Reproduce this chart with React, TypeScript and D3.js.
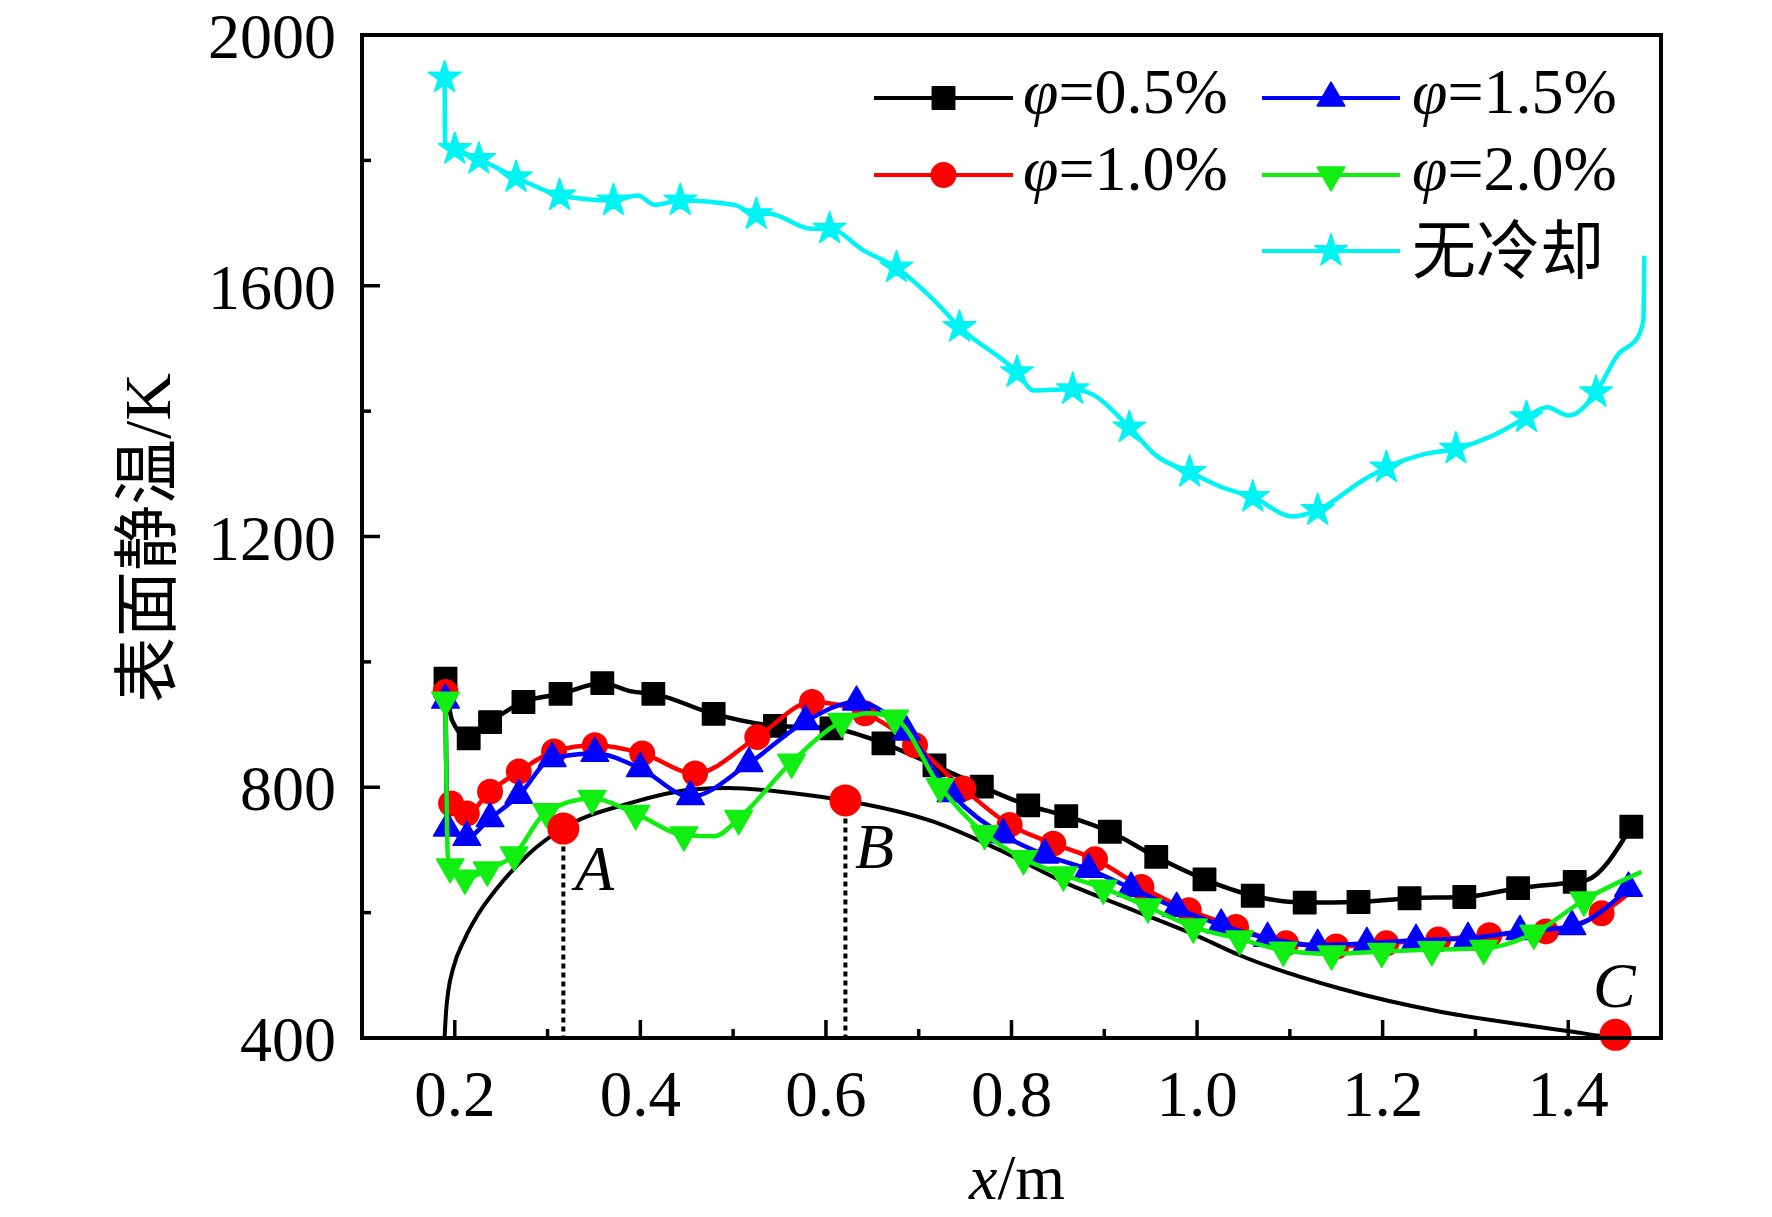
import * as d3 from 'd3';

const W = 1772;
const H = 1217;
const M = { top: 35, right: 111, bottom: 179, left: 362 };

// [x (m), T (K), marker flag] — flag 0 means a plain line vertex without a marker
type Pt = [number, number, number?];

const phi05: Pt[] = [
  [0.190, 973], [0.197, 907, 0], [0.215, 878], [0.238, 904], [0.274, 936], [0.314, 949],
  [0.359, 966], [0.39, 953, 0], [0.414, 949], [0.479, 917], [0.545, 898], [0.606, 894],
  [0.662, 870], [0.717, 835], [0.768, 801], [0.818, 771], [0.859, 754], [0.906, 729],
  [0.956, 689], [1.008, 653], [1.060, 627], [1.116, 616], [1.174, 617], [1.229, 623],
  [1.288, 625], [1.346, 639], [1.407, 649], [1.42, 652, 0], [1.468, 737],
];

const phi10: Pt[] = [
  [0.190, 952], [0.1915, 790, 0], [0.196, 774], [0.213, 758], [0.238, 793], [0.269, 825],
  [0.307, 857], [0.351, 867], [0.402, 854], [0.459, 822], [0.526, 880], [0.585, 936],
  [0.642, 918], [0.696, 867], [0.748, 798], [0.798, 740], [0.845, 710], [0.890, 685],
  [0.940, 641], [0.991, 604], [1.042, 577], [1.096, 551], [1.150, 546], [1.204, 551],
  [1.260, 557], [1.315, 564], [1.376, 570], [1.436, 599], [1.470, 636, 0],
];

const phi15: Pt[] = [
  [0.190, 939], [0.1912, 760, 0], [0.192, 735], [0.213, 720], [0.238, 750], [0.269, 787],
  [0.305, 846], [0.351, 854], [0.400, 830], [0.454, 785], [0.517, 838], [0.578, 905],
  [0.633, 936], [0.687, 888], [0.735, 790], [0.791, 724], [0.836, 692], [0.883, 669],
  [0.929, 639], [0.978, 607], [1.026, 580], [1.076, 559], [1.130, 548], [1.183, 551],
  [1.236, 556], [1.292, 559], [1.348, 570], [1.404, 578], [1.465, 639],
];

const phi20: Pt[] = [
  [0.190, 939], [0.1925, 690, 0], [0.195, 673], [0.211, 655], [0.235, 668], [0.264, 692],
  [0.299, 761], [0.348, 782], [0.395, 758], [0.447, 724], [0.48, 722, 0], [0.506, 750],
  [0.563, 840], [0.617, 905], [0.644, 918, 0], [0.674, 910], [0.723, 801], [0.771, 726],
  [0.813, 686], [0.856, 660], [0.899, 639], [0.947, 609], [0.996, 577], [1.046, 558],
  [1.093, 540], [1.145, 534], [1.199, 538], [1.253, 541], [1.309, 543], [1.363, 567],
  [1.417, 620], [1.479, 665, 0],
];

const noCool: Pt[] = [
  [0.189, 1932], [0.1895, 1825, 0], [0.200, 1818], [0.226, 1802], [0.266, 1773],
  [0.282, 1762, 0], [0.313, 1744], [0.371, 1736], [0.397, 1744, 0], [0.416, 1729, 0],
  [0.443, 1736], [0.501, 1729, 0], [0.525, 1714], [0.539, 1715, 0], [0.584, 1691, 0],
  [0.604, 1691], [0.641, 1656, 0], [0.676, 1629], [0.715, 1579, 0], [0.744, 1534],
  [0.806, 1462], [0.824, 1433, 0], [0.866, 1435], [0.887, 1427, 0], [0.927, 1374],
  [0.956, 1329, 0], [0.992, 1303], [1.026, 1279, 0], [1.060, 1263], [1.103, 1232, 0],
  [1.130, 1242], [1.178, 1289, 0], [1.204, 1310], [1.244, 1331, 0], [1.279, 1340],
  [1.319, 1361, 0], [1.355, 1390], [1.377, 1406, 0], [1.401, 1393, 0], [1.430, 1430],
  [1.454, 1491, 0], [1.475, 1518, 0], [1.481, 1545, 0], [1.482, 1648, 0],
];

// wall profile curve through A, B, C
const profile: [number, number][] = [
  [0.189, 400], [0.1905, 440], [0.193, 475], [0.198, 510], [0.211, 559], [0.225, 597],
  [0.244, 636], [0.280, 694], [0.316, 734], [0.387, 774], [0.459, 797], [0.495, 799],
  [0.567, 790], [0.620, 779], [0.716, 745], [0.787, 700], [0.859, 647], [0.931, 604],
  [1.003, 561], [1.046, 532], [1.154, 479], [1.262, 442], [1.352, 421], [1.405, 410],
  [1.437, 403], [1.451, 401],
];

const keyPoints = [
  { name: 'A', x: 0.317, t: 734, drop: true, lx: 575, ly: 890 },
  { name: 'B', x: 0.621, t: 779, drop: true, lx: 855, ly: 868 },
  { name: 'C', x: 1.451, t: 405, drop: false, lx: 1593, ly: 1007 },
];

const xTicks = [0.2, 0.4, 0.6, 0.8, 1.0, 1.2, 1.4];
const xMinor = [0.1, 0.3, 0.5, 0.7, 0.9, 1.1, 1.3, 1.5];
const yTicks = [400, 800, 1200, 1600, 2000];
const yMinor = [600, 1000, 1400, 1800];

const series = [
  { label: '0.5%', data: phi05, color: '#000000', shape: 'square', col: 0, row: 0 },
  { label: '1.0%', data: phi10, color: '#ff0000', shape: 'circle', col: 0, row: 1 },
  { label: '1.5%', data: phi15, color: '#0000ff', shape: 'up', col: 1, row: 0 },
  { label: '2.0%', data: phi20, color: '#11ee11', shape: 'down', col: 1, row: 1 },
  { label: '无冷却', data: noCool, color: '#00f4f4', shape: 'star', col: 1, row: 2 },
];

const SERIF = '"Liberation Serif", "Times New Roman", serif';
const CJK = '"Liberation Serif", "Noto Sans CJK SC", serif';

function symbolPath(shape: string) {
  switch (shape) {
    case 'square': return d3.symbol(d3.symbolSquare, 500)();
    case 'circle': return d3.symbol(d3.symbolCircle, 470)();
    case 'star': return d3.symbol(d3.symbolStar, 330)();
    default: return d3.symbol(d3.symbolTriangle, 330)();
  }
}

function Marker({ shape, color, x, y }: { shape: string; color: string; x: number; y: number }) {
  const rot = shape === 'down' ? ' rotate(180)' : '';
  return (
    <path
      d={symbolPath(shape) ?? ''}
      transform={`translate(${x},${y})${rot}`}
      fill={color}
      stroke={color}
      strokeWidth={1.5}
      strokeLinejoin="round"
    />
  );
}

export default function App() {
  const iW = W - M.left - M.right;
  const iH = H - M.top - M.bottom;
  const x = d3.scaleLinear([0.1, 1.5], [M.left, M.left + iW]);
  const y = d3.scaleLinear([400, 2000], [M.top + iH, M.top]);

  const line = d3.line<Pt>().x(d => x(d[0])).y(d => y(d[1])).curve(d3.curveMonotoneX);
  const profLine = d3.line<[number, number]>().x(d => x(d[0])).y(d => y(d[1])).curve(d3.curveMonotoneX);

  const bottom = M.top + iH;
  const legendCols = [{ x0: 874, x1: 1013, tx: 1023 }, { x0: 1262, x1: 1400, tx: 1412 }];
  const legendRows = [98, 175, 251];

  return (
    <svg width={W} height={H} style={{ position: 'absolute', left: 0, top: 0, background: '#fff' }}>
      {/* wall profile */}
      <path d={profLine(profile) ?? ''} fill="none" stroke="#000" strokeWidth={4} />

      {/* series */}
      {series.map(s => (
        <g key={s.label}>
          <path d={line(s.data) ?? ''} fill="none" stroke={s.color} strokeWidth={4.5} strokeLinejoin="round" />
          {s.data.filter(p => p[2] !== 0).map((p, i) => (
            <Marker key={i} shape={s.shape} color={s.color} x={x(p[0])} y={y(p[1])} />
          ))}
        </g>
      ))}

      {/* key points A, B, C */}
      {keyPoints.map(k => (
        <g key={k.name}>
          {k.drop && (
            <line
              x1={x(k.x)} x2={x(k.x)} y1={y(k.t)} y2={bottom}
              stroke="#000" strokeWidth={4} strokeDasharray="5 4"
            />
          )}
          <circle cx={x(k.x)} cy={y(k.t)} r={16} fill="#ff0000" />
          <text x={k.lx} y={k.ly} fontFamily={SERIF} fontStyle="italic" fontSize={64}>{k.name}</text>
        </g>
      ))}

      {/* frame */}
      <rect x={M.left} y={M.top} width={iW} height={iH} fill="none" stroke="#000" strokeWidth={4} />

      {/* x ticks */}
      {xTicks.map(v => (
        <g key={v}>
          <line x1={x(v)} x2={x(v)} y1={bottom} y2={bottom - 18} stroke="#000" strokeWidth={3.5} />
          <text x={x(v)} y={1116} textAnchor="middle" fontFamily={SERIF} fontSize={65}>{v.toFixed(1)}</text>
        </g>
      ))}
      {xMinor.map(v => (
        <line key={v} x1={x(v)} x2={x(v)} y1={bottom} y2={bottom - 9} stroke="#000" strokeWidth={3.5} />
      ))}

      {/* y ticks */}
      {yTicks.map(v => (
        <g key={v}>
          <line x1={M.left} x2={M.left + 18} y1={y(v)} y2={y(v)} stroke="#000" strokeWidth={3.5} />
          <text x={336} y={y(v) + 23} textAnchor="end" fontFamily={SERIF} fontSize={64}>{v}</text>
        </g>
      ))}
      {yMinor.map(v => (
        <line key={v} x1={M.left} x2={M.left + 9} y1={y(v)} y2={y(v)} stroke="#000" strokeWidth={3.5} />
      ))}

      {/* axis titles */}
      <text x={1017} y={1199} textAnchor="middle" fontFamily={SERIF} fontSize={64}>
        <tspan fontStyle="italic">x</tspan>/m
      </text>
      <text
        transform="translate(170,538) rotate(-90)"
        textAnchor="middle"
        fontFamily={CJK}
        fontSize={66}
      >
        表面静温/K
      </text>

      {/* legend */}
      {series.map(s => {
        const c = legendCols[s.col];
        const ry = legendRows[s.row];
        const cx = (c.x0 + c.x1) / 2;
        const cjk = s.shape === 'star';
        return (
          <g key={'lg' + s.label}>
            <line x1={c.x0} x2={c.x1} y1={ry} y2={ry} stroke={s.color} strokeWidth={4} />
            <Marker shape={s.shape} color={s.color} x={cx} y={ry} />
            {cjk ? (
              <text x={c.tx} y={ry + 22} fontFamily={CJK} fontSize={64}>{s.label}</text>
            ) : (
              <text x={c.tx} y={ry + 15} fontFamily={SERIF} fontSize={64}>
                <tspan fontStyle="italic">φ</tspan>={s.label}
              </text>
            )}
          </g>
        );
      })}
    </svg>
  );
}
